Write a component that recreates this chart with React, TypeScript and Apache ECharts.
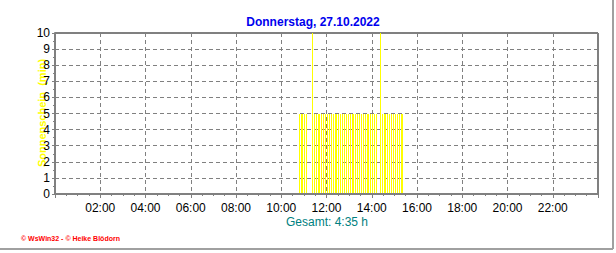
import React, { useEffect, useRef } from "react";
import * as echarts from "echarts";

const chartTitle = "Donnerstag, 27.10.2022";
const yAxisTitle = "Sonnenschein  (min)";
const totalLabel = "Gesamt: 4:35 h";
const footerText = "© WsWin32 - © Heike Blödorn";

const sunTimes = [
  "10:45", "10:50", "10:55", "11:00", "11:05",
  "11:20", "11:25", "11:30", "11:35", "11:40",
  "11:45", "11:50", "11:55", "12:00", "12:05", "12:10", "12:15", "12:20",
  "12:25", "12:30", "12:35", "12:40", "12:45", "12:50", "12:55", "13:00",
  "13:05", "13:10", "13:15", "13:20", "13:25", "13:30", "13:35", "13:40",
  "13:45", "13:50", "13:55", "14:00", "14:05", "14:10", "14:20",
  "14:25", "14:30", "14:35", "14:40", "14:45", "14:50", "14:55", "15:00",
  "15:05", "15:10", "15:15", "15:20",
];
const sunValues = [
  5, 5, 5, 5, 5,
  10, 5, 5, 5, 5,
  5, 5, 5, 5, 5, 5, 5, 5,
  5, 5, 5, 5, 5, 5, 5, 5,
  5, 5, 5, 5, 5, 5, 5, 5,
  5, 5, 5, 5, 5, 5, 10,
  5, 5, 5, 5, 5, 5, 5, 5,
  5, 5, 5, 5,
];

const toHours = (t: string) => {
  const [h, m] = t.split(":").map(Number);
  return h + m / 60;
};

const FONT = "'Liberation Sans', Arial, sans-serif";

export default function App() {
  const ref = useRef<HTMLDivElement>(null);
  useEffect(() => {
    document.body.style.margin = "0";
    const chart = echarts.init(ref.current!, undefined, { renderer: "svg" });
    const data = sunTimes.map((t, i) => [toHours(t), sunValues[i]]);
    chart.setOption({
      animation: false,
      backgroundColor: "#ffffff",
      grid: {
        left: 55,
        top: 33,
        width: 543,
        height: 161,
        show: true,
        borderColor: "#000000",
        borderWidth: 1,
        backgroundColor: "transparent",
      },
      title: {
        text: chartTitle,
        left: 308,
        textAlign: "center",
        top: 11,
        textStyle: { color: "#0000ee", fontSize: 12, fontWeight: "bold", fontFamily: FONT },
      },
      xAxis: {
        type: "value",
        min: 0,
        max: 24,
        interval: 2,
        axisLine: { show: true, lineStyle: { color: "#808080", width: 2 } },
        axisTick: { show: true, length: 4, lineStyle: { color: "#808080" } },
        minorTick: { show: true, splitNumber: 4, length: 2, lineStyle: { color: "#808080" } },
        splitLine: { show: true, lineStyle: { color: "#808080", type: [4, 3], width: 1 } },
        axisLabel: {
          color: "#000000",
          fontSize: 12,
          fontFamily: FONT,
          margin: 8,
          formatter: (v: number) => (v <= 0 || v >= 24 ? "" : String(v).padStart(2, "0") + ":00"),
        },
      },
      yAxis: {
        type: "value",
        min: 0,
        max: 10,
        interval: 1,
        axisLine: { show: true, lineStyle: { color: "#808080", width: 2 } },
        axisTick: { show: true, length: 3, lineStyle: { color: "#808080" } },
        minorTick: { show: true, splitNumber: 2, length: 2, lineStyle: { color: "#808080" } },
        splitLine: { show: true, lineStyle: { color: "#808080", type: [4, 3], width: 1 } },
        axisLabel: { color: "#000000", fontSize: 12, fontFamily: FONT, margin: 5 },
      },
      series: [
        {
          type: "custom",
          data,
          renderItem: (params: any, api: any) => {
            const top = api.coord([api.value(0), api.value(1)]);
            const base = api.coord([api.value(0), 0]);
            return {
              type: "rect",
              shape: { x: Math.ceil(top[0]), y: Math.round(top[1]), width: 1, height: Math.round(base[1]) - Math.round(top[1]) - 1 },
              style: { fill: "#ffff00" },
            };
          },
          z: 3,
        },
      ],
      graphic: [
        {
          type: "text",
          x: 42,
          y: 113,
          rotation: Math.PI / 2,
          style: {
            text: yAxisTitle,
            fill: "#ffff00",
            font: "bold 11px " + FONT,
            align: "center",
            verticalAlign: "middle",
          },
        },
        {
          type: "text",
          x: 327,
          y: 222,
          style: {
            text: totalLabel,
            fill: "#008080",
            font: "12px " + FONT,
            align: "center",
            verticalAlign: "middle",
          },
        },
        {
          type: "text",
          x: 21,
          y: 238,
          style: {
            text: footerText,
            fill: "#ff0000",
            font: "bold 7px " + FONT,
            align: "left",
            verticalAlign: "middle",
          },
        },
        { type: "line", shape: { x1: 613, y1: 0, x2: 613, y2: 249 }, style: { stroke: "#a0a0a0", lineWidth: 2 } },
        { type: "line", shape: { x1: 0, y1: 249, x2: 613, y2: 249 }, style: { stroke: "#a0a0a0", lineWidth: 2 } },
      ],
    });
    return () => chart.dispose();
  }, []);
  return <div ref={ref} style={{ width: 616, height: 253 }} />;
}
